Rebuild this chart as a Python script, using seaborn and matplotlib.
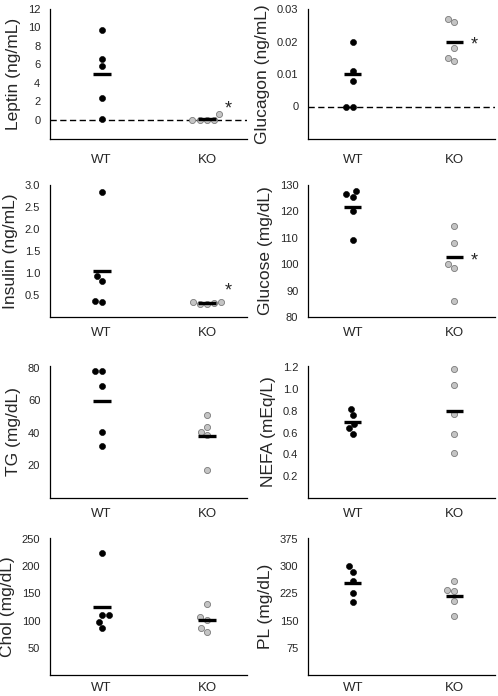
"""Serum parameters in WT vs KO mice: dot plots with group means."""

import matplotlib
matplotlib.use("Agg")
import matplotlib.pyplot as plt
import pandas as pd
import seaborn as sns
from matplotlib.ticker import FuncFormatter

groups = ["WT", "KO"]

leptin_wt = [9.7, 6.6, 5.8, 2.3, 0.1]
leptin_ko = [0.0, 0.0, 0.0, 0.0, 0.6]
leptin_mean = [4.95, 0.08]

glucagon_wt = [0.020, 0.011, 0.008, 0.0, 0.0]
glucagon_ko = [0.027, 0.026, 0.018, 0.015, 0.014]
glucagon_mean = [0.010, 0.020]

insulin_wt = [2.85, 0.93, 0.81, 0.36, 0.33]
insulin_ko = [0.34, 0.33, 0.31, 0.30, 0.29]
insulin_mean = [1.05, 0.31]

glucose_wt = [127.8, 126.6, 125.6, 120.1, 109.3]
glucose_ko = [114.4, 108.2, 100.0, 98.7, 86.0]
glucose_mean = [121.5, 102.6]

tg_wt = [78.0, 78.0, 69.0, 40.6, 31.7]
tg_ko = [51.1, 43.4, 40.6, 38.6, 17.2]
tg_mean = [59.5, 38.0]

nefa_wt = [0.82, 0.76, 0.68, 0.64, 0.59]
nefa_ko = [1.18, 1.04, 0.77, 0.59, 0.41]
nefa_mean = [0.70, 0.80]

chol_wt = [225, 110, 110, 98, 87]
chol_ko = [130, 106, 101, 87, 79]
chol_mean = [126, 101]

pl_wt = [300, 285, 258, 226, 201]
pl_ko = [260, 235, 233, 203, 164]
pl_mean = [255, 219]

panels = [
    ("Leptin (ng/mL)", leptin_wt, leptin_ko, leptin_mean, (-2.1, 12), [0, 2, 4, 6, 8, 10, 12], 1.8),
    ("Glucagon (ng/mL)", glucagon_wt, glucagon_ko, glucagon_mean, (-0.01, 0.03), [0, 0.01, 0.02, 0.03], 0.0205),
    ("Insulin (ng/mL)", insulin_wt, insulin_ko, insulin_mean, (0, 3.0), [0.5, 1.0, 1.5, 2.0, 2.5, 3.0], 0.71),
    ("Glucose (mg/dL)", glucose_wt, glucose_ko, glucose_mean, (80, 130), [80, 90, 100, 110, 120, 130], 103.5),
    ("TG (mg/dL)", tg_wt, tg_ko, tg_mean, (0, 81), [20, 40, 60, 80], None),
    ("NEFA (mEq/L)", nefa_wt, nefa_ko, nefa_mean, (0, 1.21), [0.2, 0.4, 0.6, 0.8, 1.0, 1.2], None),
    ("Chol (mg/dL)", chol_wt, chol_ko, chol_mean, (0, 252), [50, 100, 150, 200, 250], None),
    ("PL (mg/dL)", pl_wt, pl_ko, pl_mean, (0, 378), [75, 150, 225, 300, 375], None),
]

sns.set_style("white")
plt.rcParams["font.family"] = ["Liberation Sans", "DejaVu Sans"]

W, H = 498, 696
fig = plt.figure(figsize=(W / 100, H / 100), dpi=100)

# pixel boxes of the panels (left, right) per column and (top, bottom) per row
cols = [(50, 247), (308, 495)]
rows = [(9, 139), (185, 317), (366, 498), (538, 675)]
xlims = [(-0.49, 1.38), (-0.44, 1.40)]
xpads = [11, 7, 7, 5]

for k, (label, wt, ko, means, ylim, yticks, star_y) in enumerate(panels):
    r, c = divmod(k, 2)
    x0, x1 = cols[c]
    top, bot = rows[r]
    ax = fig.add_axes([x0 / W, 1 - bot / H, (x1 - x0) / W, (bot - top) / H])

    df = pd.DataFrame({
        "group": ["WT"] * len(wt) + ["KO"] * len(ko),
        "value": list(wt) + list(ko),
    })
    if ylim[0] < 0:
        ax.axhline(0, color="black", lw=1.0, ls=(0, (4.5, 2.5)), zorder=0)

    sns.swarmplot(data=df[df["group"] == "WT"], x="group", y="value", order=groups,
                  color="black", edgecolor="black", linewidth=0.4, size=4.4, ax=ax, zorder=2)
    sns.swarmplot(data=df[df["group"] == "KO"], x="group", y="value", order=groups,
                  color="#c4c4c4", edgecolor="#7a7a7a", linewidth=0.6, size=4.4, ax=ax, zorder=2)

    for i, m in enumerate(means):
        ax.hlines(m, i - 0.085, i + 0.085, color="black", lw=2.4, zorder=3)

    if star_y is not None:
        ax.annotate("*", (1.2, star_y), xytext=(0, -4), textcoords="offset points",
                    ha="center", va="center", fontsize=13)

    ax.set_xlim(*xlims[c])
    ax.set_ylim(*ylim)
    ax.set_yticks(yticks)
    ax.yaxis.set_major_formatter(FuncFormatter(lambda v, p: f"{v:g}" if abs(v) >= 0.1 or v == 0 else f"{v:.2f}"))
    if label in ("Insulin (ng/mL)", "NEFA (mEq/L)"):
        ax.yaxis.set_major_formatter(FuncFormatter(lambda v, p: f"{v:.1f}"))
    ax.set_xlabel("")
    ax.set_ylabel(label, fontsize=12.5, labelpad=5)
    ax.tick_params(axis="y", length=0, pad=7, labelsize=8)
    ax.tick_params(axis="x", length=0, pad=xpads[r], labelsize=9.5)
    for side in ("top", "right"):
        ax.spines[side].set_visible(False)
    for side in ("left", "bottom"):
        ax.spines[side].set_color("black")
        ax.spines[side].set_linewidth(0.9)

fig.savefig("out.png", dpi=100)
plt.close(fig)
